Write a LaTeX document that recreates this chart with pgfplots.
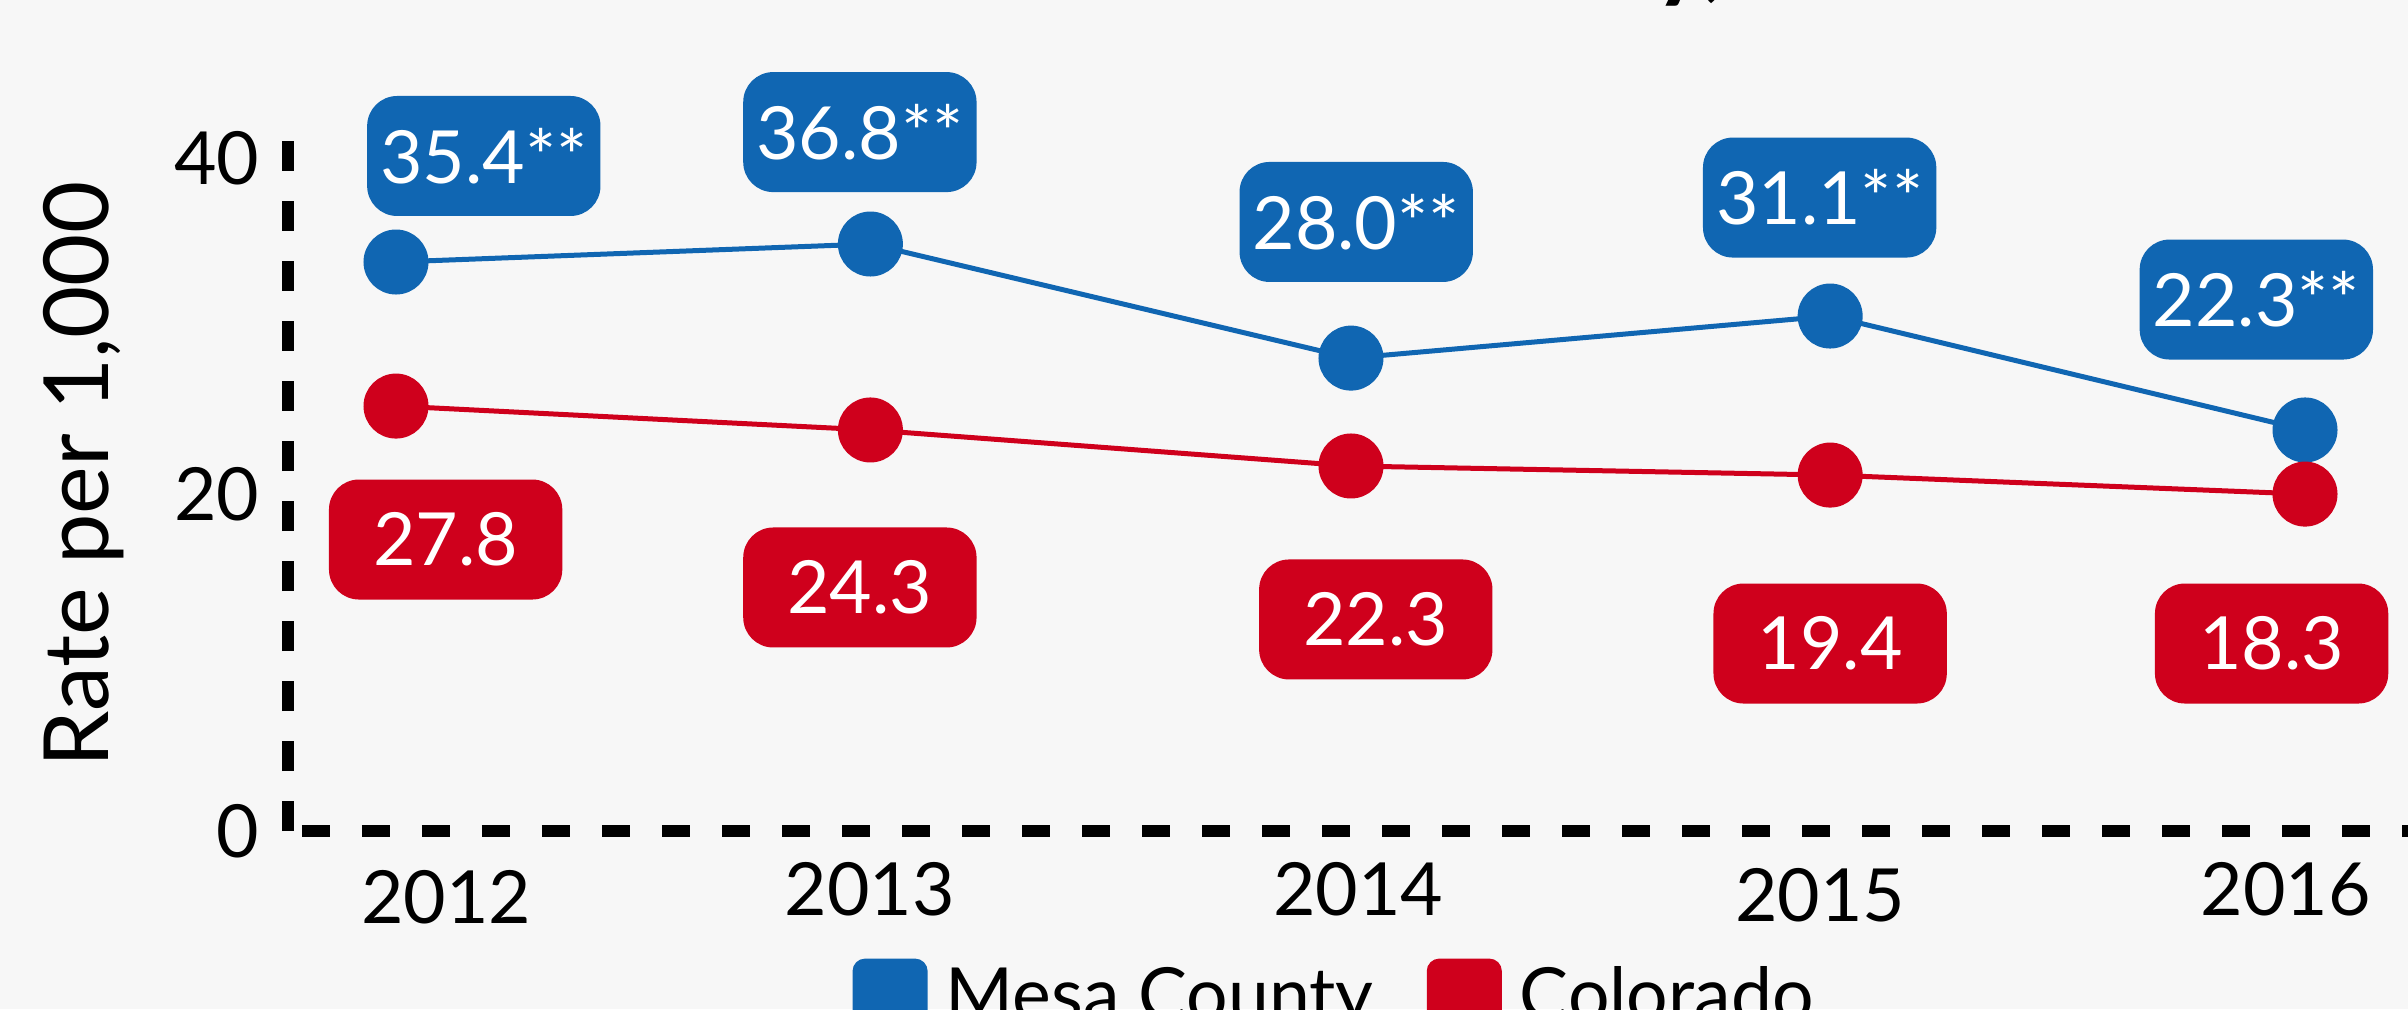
\documentclass[border=0pt]{standalone}
\usepackage{fontspec}
\setmainfont{Lato}
\usepackage{pgfplots}
\pgfplotsset{compat=1.18}
\definecolor{mblue}{RGB}{16,102,178}
\definecolor{cred}{RGB}{207,0,28}
\definecolor{bg}{RGB}{247,247,247}
\tikzset{box/.style={text=white, minimum width=70pt, minimum height=36pt, rounded corners=9pt, inner sep=0pt, font=\fontsize{22}{26}\selectfont}}
\begin{document}
\begin{tikzpicture}
\fill[bg] (-86.4pt,-53.4pt) rectangle (636pt,249.3pt);
\node[anchor=base east, inner sep=0pt, font=\fontsize{30}{36}\selectfont\bfseries] at (431.7pt,252.5pt) {Mesa County,};
\begin{axis}[
  at={(0pt,0pt)}, anchor=south west,
  scale only axis, width=636pt, height=207pt,
  xmin=2011.7737, xmax=2016.2158, ymin=0, ymax=41,
  clip=false,
  axis x line=bottom, axis y line=left,
  x axis line style={-, black, line width=3.4pt, dash pattern=on 8.4pt off 9.6pt, dash phase=13.8pt},
  y axis line style={-, black, line width=3.6pt, dash pattern=on 9pt off 9pt},
  major tick length=0pt,
  xtick={2012.105,2012.993,2014.016,2014.984,2015.96},
  xticklabels={\raisebox{-2.4pt}{2012},2013,2014,\raisebox{-2pt}{2015},2016},
  ytick={0,20,40}, yticklabels={0,20,40},
  xticklabel style={anchor=base, yshift=-25.2pt, inner sep=0pt, font=\fontsize{22}{26}\selectfont},
  yticklabel style={anchor=east, inner sep=0pt, xshift=-8.4pt, font=\fontsize{22}{26}\selectfont},
  ylabel={Rate per 1,000},
  ylabel style={at={(axis description cs:-0.0849,0.5167)}, anchor=base, inner sep=0pt, font=\fontsize{27}{32}\selectfont},
  legend columns=2,
  legend style={at={(axis description cs:0.266,-0.184)}, anchor=north west, draw=none, fill=none, inner sep=0pt, font=\fontsize{22}{27}\selectfont,
    /tikz/every odd column/.append style={column sep=3.4pt},
    /tikz/every even column/.append style={column sep=14pt}},
  legend cell align=left,
]
\addplot[mblue, line width=1.5pt, mark=*, mark size=9pt, mark options={solid},
  legend image code/.code={\fill[mblue, rounded corners=3pt] (0pt,-10.5pt) rectangle (21pt,10.5pt);}]
  coordinates {(2012,33.81) (2012.994,34.88) (2014.001,28.10) (2015.005,30.60) (2016,23.83)};
\addlegendentry{Mesa County}
\addplot[cred, line width=1.5pt, mark=*, mark size=9pt, mark options={solid},
  legend image code/.code={\fill[cred, rounded corners=3pt] (0pt,-10.5pt) rectangle (21pt,10.5pt);}]
  coordinates {(2012,25.25) (2012.994,23.83) (2014.001,21.69) (2015.005,21.15) (2016,20.02)};
\addlegendentry{Colorado}
\node[box, fill=mblue] at (axis cs:2012.184,40.11) {35.4**};
\node[box, fill=mblue] at (axis cs:2012.972,41.53) {36.8**};
\node[box, fill=mblue] at (axis cs:2014.012,36.19) {28.0**};
\node[box, fill=mblue] at (axis cs:2014.983,37.64) {31.1**};
\node[box, fill=mblue] at (axis cs:2015.898,31.58) {22.3**};
\node[box, fill=cred] at (axis cs:2012.104,17.32) {27.8};
\node[box, fill=cred] at (axis cs:2012.972,14.47) {24.3};
\node[box, fill=cred] at (axis cs:2014.053,12.57) {22.3};
\node[box, fill=cred] at (axis cs:2015.005,11.14) {19.4};
\node[box, fill=cred] at (axis cs:2015.930,11.14) {18.3};
\end{axis}
\pgfresetboundingbox
\path[use as bounding box] (-86.4pt,-53.4pt) rectangle (636pt,249.3pt);
\end{tikzpicture}
\end{document}
